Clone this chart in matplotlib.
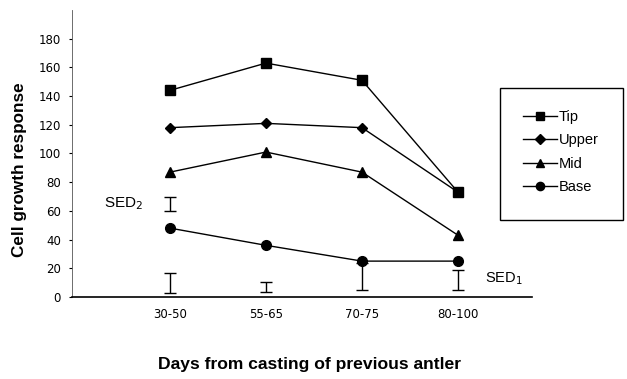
import matplotlib

matplotlib.use("Agg")
import matplotlib.pyplot as plt
from matplotlib.patches import Rectangle

# categorias e valores
dias = ["30-50", "55-65", "70-75", "80-100"]
tip = [144, 163, 151, 73]
upper = [118, 121, 118, 73]
mid = [87, 101, 87, 43]
base = [48, 36, 25, 25]

# barras de SED1 (limites inferior/superior) e SED2
sed1_baixo = [3, 3.5, 5, 5]
sed1_alto = [17, 10.5, 24, 19]
sed2_baixo = [60]
sed2_alto = [70]

series = [
    ("Tip", tip, "s", 7),
    ("Upper", upper, "D", 5.5),
    ("Mid", mid, "^", 7),
    ("Base", base, "o", 7),
]

plt.rcParams["font.family"] = ["Liberation Sans", "DejaVu Sans"]

fig = plt.figure(figsize=(6.27, 3.79), dpi=100)
ax = fig.add_axes([0.1148, 0.2164, 0.7337, 0.7572])

xs = list(range(1, len(dias) + 1))
handles = []
for nome, vals, mk, ms in series:
    (h,) = ax.plot(xs, vals, color="black", lw=1.0, marker=mk, ms=ms, label=nome)
    handles.append(h)

# barras de erro como intervalos
centro1 = [(a + b) / 2 for a, b in zip(sed1_baixo, sed1_alto)]
meia1 = [(b - a) / 2 for a, b in zip(sed1_baixo, sed1_alto)]
ax.errorbar(xs, centro1, yerr=meia1, fmt="none", ecolor="black", elinewidth=1.0,
            capsize=4, capthick=1.0)
centro2 = [(a + b) / 2 for a, b in zip(sed2_baixo, sed2_alto)]
meia2 = [(b - a) / 2 for a, b in zip(sed2_baixo, sed2_alto)]
ax.errorbar(xs[:1], centro2, yerr=meia2, fmt="none", ecolor="black", elinewidth=1.0,
            capsize=4, capthick=1.0)

ax.text(0.52, 65, "SED$_2$", fontsize=11, ha="center", va="center")
ax.text(4.48, 13, "SED$_1$", fontsize=10.5, ha="center", va="center")

ax.set_xlim(-0.02, 4.77)
ax.set_ylim(0, 200)
ax.set_xticks(xs)
ax.set_xticklabels(dias, family="DejaVu Sans", fontsize=8.5)
ax.set_yticks(range(0, 181, 20))
ax.set_yticklabels([str(v) for v in range(0, 181, 20)], family="DejaVu Sans", fontsize=8.5)
ax.tick_params(axis="x", length=0, pad=8)
ax.tick_params(axis="y", length=2, pad=6)
for lado in ("top", "right"):
    ax.spines[lado].set_visible(False)
ax.spines["left"].set_linewidth(0.6)
ax.spines["left"].set_color("#555555")
ax.spines["bottom"].set_linewidth(1.2)

fig.text(20 / 627, 1 - 170 / 379, "Cell growth response", fontsize=12.3,
         fontweight="bold", rotation=90, ha="center", va="center")
fig.text(310 / 627, 1 - 365 / 379, "Days from casting of previous antler", fontsize=12.6,
         fontweight="bold", ha="center", va="center")

# caixa da legenda
fig.patches.append(Rectangle((500 / 627, 1 - 220 / 379), 123 / 627, 132 / 379,
                             transform=fig.transFigure, fill=False, ec="black", lw=1.0))
fig.legend(handles=handles, loc="center left", bbox_to_anchor=(523 / 627, 1 - 152 / 379),
           frameon=False, fontsize=10.5, handlelength=2.3, handletextpad=0.15,
           labelspacing=0.64, borderaxespad=0, borderpad=0, markerscale=0.85)

fig.savefig("out.png", dpi=100)
